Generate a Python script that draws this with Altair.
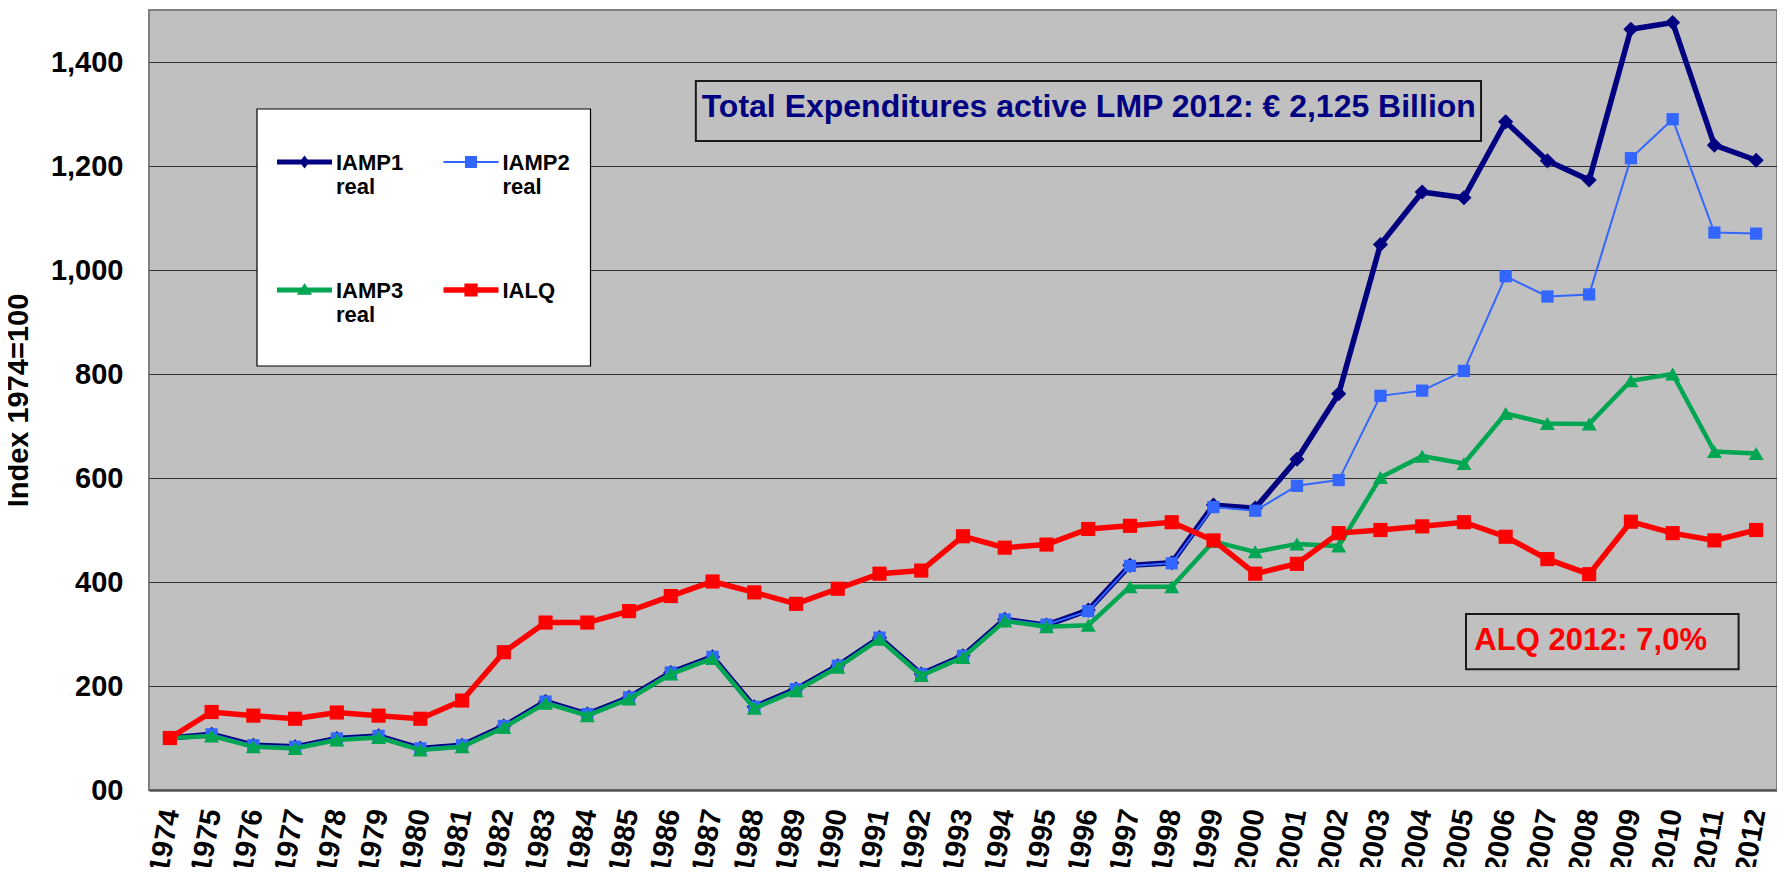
import altair as alt
import pandas as pd

# ---------------- data ----------------
years = list(range(1974, 2013))

iamp1_real = [100, 107, 86, 83, 99, 104, 80, 86, 123, 170, 146, 178, 226, 256, 160, 194,
              239, 293, 223, 258, 328, 317, 346, 432, 437, 548, 542, 636, 762, 1049, 1150,
              1139, 1285, 1210, 1173, 1463, 1476, 1240, 1211]
iamp2_real = [100, 107, 86, 83, 99, 104, 80, 86, 123, 170, 146, 178, 226, 256, 160, 194,
              239, 293, 223, 258, 328, 318, 344, 431, 436, 544, 537, 585, 596, 758, 768,
              806, 988, 949, 953, 1215, 1290, 1072, 1070]
iamp3_real = [100, 104, 83, 80, 96, 101, 77, 83, 120, 167, 143, 175, 223, 253, 157, 191,
              236, 290, 220, 255, 325, 314, 317, 391, 391, 478, 458, 473, 469, 601, 642,
              628, 724, 705, 704, 787, 800, 651, 647]
ialq = [100, 150, 143, 137, 149, 143, 137, 172, 265, 322, 322, 344, 373, 401, 380, 358,
        387, 416, 422, 488, 466, 472, 502, 508, 515, 480, 416, 435, 494, 500, 507, 515,
        487, 444, 415, 516, 494, 480, 500]

series_names = ["IAMP1 real", "IAMP2 real", "IAMP3 real", "IALQ"]
y_ticks = [0, 200, 400, 600, 800, 1000, 1200, 1400]

title_note = "Total Expenditures active LMP 2012: € 2,125 Billion"
alq_note = "ALQ 2012: 7,0%"
y_title = "Index 1974=100"

# ---------------- styles ----------------
FONT = "Liberation Sans"
series_colors = ["#000080", "#3366FF", "#00A651", "#FF0000"]
line_widths = [5.5, 2, 4.5, 5.5]
marker_shapes = ["diamond", "square", "triangle-up", "square"]
marker_sizes = [230, 150, 225, 200]

rows = []
for name, vals in zip(series_names, [iamp1_real, iamp2_real, iamp3_real, ialq]):
    for yr, v in zip(years, vals):
        rows.append({"year": yr, "value": v, "series": name})
df = pd.DataFrame(rows)
one = pd.DataFrame([{"k": 0}])

color_scale = alt.Scale(domain=series_names, range=series_colors)
x_enc = alt.X("year:Q",
              scale=alt.Scale(domain=[1973.5, 2012.5], nice=False, zero=False),
              axis=alt.Axis(values=years, format="d", labelAngle=280, labelAlign="right",
                            labelBaseline="middle", labelFont=FONT, labelFontSize=29,
                            labelFontWeight="bold", labelColor="black", labelPadding=19,
                            labelOverlap=False, labelFlush=False, ticks=False, grid=False,
                            domainColor="#555555", domainWidth=2.5, title=None))
y_enc = alt.Y("value:Q",
              scale=alt.Scale(domain=[0, 1500], nice=False),
              axis=alt.Axis(values=y_ticks,
                            labelExpr="datum.value == 0 ? '00' : format(datum.value, ',')",
                            labelFont=FONT, labelFontSize=29, labelFontWeight="bold",
                            labelColor="black", labelPadding=26, ticks=False, domain=False,
                            grid=True, gridColor="#303030", gridWidth=1,
                            title=y_title, titleFont=FONT, titleFontSize=29,
                            titleFontWeight="bold", titleColor="black", titlePadding=17))
color_plain = alt.Color("series:N", scale=color_scale, legend=None)

layers = []
for name, w, shp, sz in zip(series_names, line_widths, marker_shapes, marker_sizes):
    base = alt.Chart(df).transform_filter(alt.datum.series == name)
    layers.append(base.mark_line(strokeWidth=w).encode(x=x_enc, y=y_enc, color=color_plain))
    layers.append(base.mark_point(filled=True, shape=shp, size=sz, opacity=1)
                  .encode(x=x_enc, y=y_enc, color=color_plain))

# ---------------- legend (drawn as a boxed key, pixel layout inside the plot) ----------------
legend_paths = [
    "M-1,-0.09L1,-0.09L1,0.09L-1,0.09Z M0,-0.24L0.18,0L0,0.24L-0.18,0Z",
    "M-1,-0.04L1,-0.04L1,0.04L-1,0.04Z M-0.22,-0.22L0.22,-0.22L0.22,0.22L-0.22,0.22Z",
    "M-1,-0.09L1,-0.09L1,0.09L-1,0.09Z M0,-0.25L0.28,0.17L-0.28,0.17Z",
    "M-1,-0.1L1,-0.1L1,0.1L-1,0.1Z M-0.24,-0.24L0.24,-0.24L0.24,0.24L-0.24,0.24Z",
]
legend_labels = [["IAMP1", "real"], ["IAMP2", "real"], ["IAMP3", "real"], ["IALQ"]]
key_sym_x = [155.5, 322, 155.5, 322]
key_sym_y = [152, 152, 280, 280]

legend_layers = [
    alt.Chart(one).mark_rect(fill="white", stroke="black", strokeWidth=1.2).encode(
        x=alt.value(108), x2=alt.value(441.5), y=alt.value(99), y2=alt.value(356))
]
for path, lab, col, sx, sy in zip(legend_paths, legend_labels, series_colors, key_sym_x, key_sym_y):
    legend_layers.append(alt.Chart(one).mark_point(
        shape=path, size=3025, filled=True, color=col, opacity=1, strokeWidth=0).encode(
        x=alt.value(sx), y=alt.value(sy)))
    legend_layers.append(alt.Chart(one).mark_text(
        text=lab, align="left", baseline="alphabetic", lineHeight=24, font=FONT,
        fontSize=22, fontWeight="bold", color="black").encode(
        x=alt.value(sx + 31.5), y=alt.value(sy + 8)))

# ---------------- annotations ----------------
note_box = alt.Chart(one).mark_rect(fill="#C0C0C0", stroke="#1a1a1a", strokeWidth=2).encode(
    x=alt.datum(1986.6), x2=alt.datum(2005.41), y=alt.datum(1363.5), y2=alt.datum(1248))
note_text = alt.Chart(one).mark_text(
    align="left", baseline="alphabetic", font=FONT, fontSize=32, fontWeight="bold",
    color="#000080", text=title_note).encode(x=alt.datum(1986.74), y=alt.datum(1294))

alq_box = alt.Chart(one).mark_rect(fill="#C0C0C0", stroke="#1a1a1a", strokeWidth=2).encode(
    x=alt.datum(2005.05), x2=alt.datum(2011.58), y=alt.datum(338.5), y2=alt.datum(232))
alq_text = alt.Chart(one).mark_text(
    align="left", baseline="alphabetic", font=FONT, fontSize=31, fontWeight="bold",
    color="#FF0000", text=alq_note).encode(x=alt.datum(2005.25), y=alt.datum(269))

page_edge = alt.Chart(one).mark_rule(color="#555555", strokeWidth=2).encode(
    x=alt.value(-148), y=alt.value(-10), y2=alt.value(870))

chart = alt.layer(*layers, *legend_layers, note_box, note_text, alq_box, alq_text,
                  page_edge).properties(
    width=1628, height=780,
    autosize=alt.AutoSizeParams(type="none"),
    padding={"left": 141, "top": 2, "right": 0, "bottom": 77},
    background="white",
).configure_view(fill="#C0C0C0", stroke="#808080", strokeWidth=2)

chart.save("out.html", embed_options={"renderer": "svg", "actions": False})
